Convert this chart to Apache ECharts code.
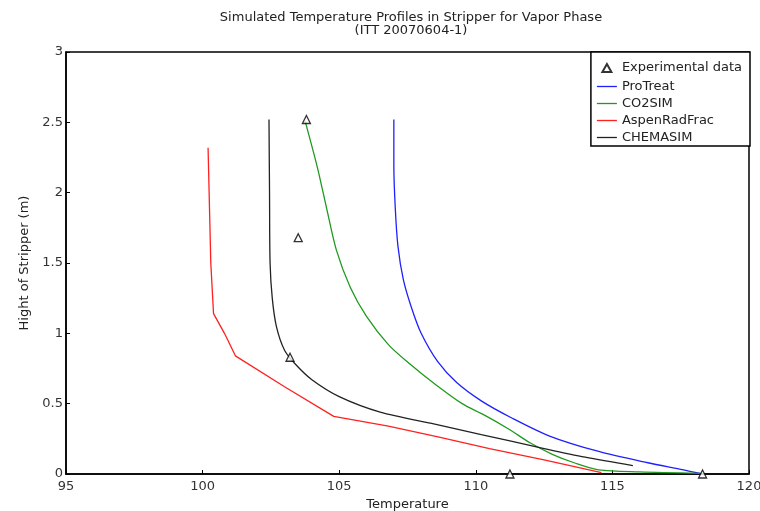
<!DOCTYPE html>
<html style="background-color: #fff;">
<head>
<meta charset="utf-8">
<script src="https://cdn.jsdelivr.net/npm/echarts@6/dist/echarts.min.js"></script>
<style>
  html, body { margin: 0; padding: 0; background: #fff; }
  #container { width: 760px; height: 511px; }
</style>
</head>
<body>
<div id="container"></div>
<script type="text/javascript">
// values: [temperature, height]
var proTreat = [[107.0,2.52],[107.0,2.2],[107.05,1.9],[107.15,1.62],[107.35,1.38],[107.65,1.18],[108.0,1.0],
    [108.6,0.8],[109.3,0.65],[110.2,0.52],[111.3,0.40],[112.7,0.27],[114.5,0.16],[116.3,0.08],[117.6,0.03],[118.3,0.0]];
var co2sim = [[103.75,2.51],[104.2,2.18],[104.55,1.88],[104.9,1.59],[105.4,1.33],[106.0,1.12],[106.8,0.92],
    [107.6,0.78],[108.5,0.64],[109.5,0.5],[110.3,0.42],[111.2,0.32],[112.0,0.22],[112.8,0.14],[113.6,0.08],
    [114.5,0.03],[116.0,0.015],[118.2,0.005]];
var aspenRadFrac = [[100.2,2.32],[100.3,1.5],[100.4,1.14],[100.8,1.0],[101.2,0.84],[103.0,0.62],[104.8,0.41],
    [106.8,0.34],[108.7,0.26],[110.5,0.18],[112.5,0.1],[114.6,0.01]];
var chemasim = [[102.43,2.52],[102.45,2.0],[102.47,1.5],[102.55,1.25],[102.7,1.05],[103.0,0.88],[103.4,0.78],
    [104.0,0.67],[105.0,0.55],[106.5,0.44],[108.5,0.355],[110.2,0.28],[112.3,0.19],[114.0,0.12],[115.75,0.06]];
var experimental = [[103.8,2.52],[103.5,1.68],[103.2,0.83],[111.25,0],[118.3,0]];

var seriesNames = ['Experimental data','ProTreat','CO2SIM','AspenRadFrac','CHEMASIM'];

var font = 'DejaVu Sans, Verdana, sans-serif';
// legend icons: a short line, and a small hollow triangle inside a 20x14 box
var lineIcon = 'path://M0,0L20,0L20,1.3L0,1.3Z';
var triIcon = 'path://M0,0L0,0M20,14L20,14M10,3L14.5,11L5.5,11Z';

var dom = document.getElementById("container");
var myChart = echarts.init(dom);

function lineSeries(name, data, color, smooth) {
    return {
        name: name,
        type: 'line',
        data: data,
        symbol: 'none',
        smooth: smooth,
        lineStyle: { color: color, width: 1.3 },
        itemStyle: { color: color }
    };
}

var option = {
    animation: false,
    backgroundColor: '#fff',
    title: {
        text: 'Simulated Temperature Profiles in Stripper for Vapor Phase\n(ITT 20070604-1)',
        left: 406,
        top: 6,
        textAlign: 'center',
        textStyle: { fontFamily: font, fontSize: 13, fontWeight: 'normal', color: '#222', lineHeight: 13 }
    },
    legend: {
        data: seriesNames.map(function (n, i) {
            return { name: n, icon: i === 0 ? triIcon : lineIcon };
        }),
        orient: 'vertical',
        right: 10,
        top: 52,
        itemWidth: 20,
        itemHeight: 14,
        itemGap: 4,
        padding: [8, 8, 2, 5],
        borderColor: '#000',
        borderWidth: 1.5,
        backgroundColor: '#fff',
        textStyle: { fontFamily: font, fontSize: 13, color: '#222', width: 127, overflow: 'truncate' }
    },
    grid: {
        left: 66, right: 11, top: 52, bottom: 37,
        outerBoundsMode: 'none',
        show: true, borderColor: '#000', borderWidth: 1.5
    },
    xAxis: {
        type: 'value',
        min: 95, max: 120, interval: 5,
        name: 'Temperature',
        nameLocation: 'middle',
        nameGap: 19,
        nameTextStyle: { fontFamily: font, fontSize: 13, color: '#222' },
        axisLine: { lineStyle: { color: '#000', width: 1.5 } },
        axisTick: { inside: true, length: 4, lineStyle: { color: '#000' } },
        axisLabel: { fontFamily: font, fontSize: 13, color: '#333', margin: 6 },
        splitLine: { show: false }
    },
    yAxis: {
        type: 'value',
        min: 0, max: 3, interval: 0.5,
        name: 'Hight of Stripper (m)',
        nameLocation: 'middle',
        nameGap: 26,
        nameTextStyle: { fontFamily: font, fontSize: 13, color: '#222' },
        axisLine: { lineStyle: { color: '#000', width: 1.5 } },
        axisTick: { inside: true, length: 4, lineStyle: { color: '#000' } },
        axisLabel: { fontFamily: font, fontSize: 13, color: '#333', margin: 3 },
        splitLine: { show: false }
    },
    series: [
        {
            name: 'Experimental data',
            type: 'scatter',
            data: experimental,
            symbol: 'triangle',
            symbolSize: 8,
            z: 5,
            itemStyle: { color: '#fff', borderColor: '#000', borderWidth: 1.3 }
        },
        lineSeries('ProTreat', proTreat, '#2020ff', 0.3),
        lineSeries('CO2SIM', co2sim, '#1f9a1f', 0.3),
        lineSeries('AspenRadFrac', aspenRadFrac, '#ff2020', false),
        lineSeries('CHEMASIM', chemasim, '#222222', 0.3)
    ]
};

myChart.setOption(option);
</script>
</body>
</html>
